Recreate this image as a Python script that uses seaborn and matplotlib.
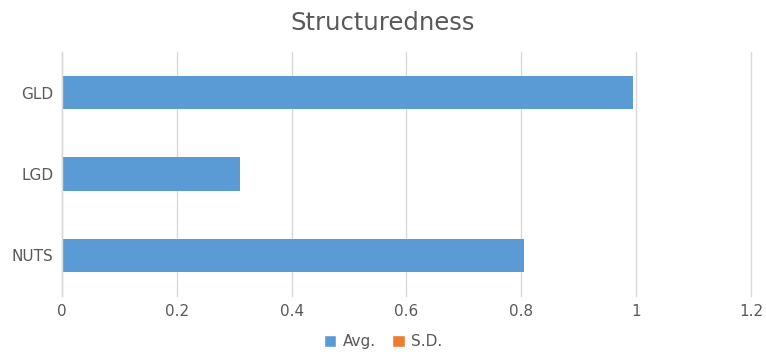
import matplotlib
matplotlib.use("Agg")
import matplotlib.pyplot as plt
from matplotlib.patches import Patch
import seaborn as sns
import pandas as pd

categories = ["GLD", "LGD", "NUTS"]
avg_values = [0.994, 0.31, 0.804]
sd_values = [0.0, 0.0, 0.0]
x_ticks = [0, 0.2, 0.4, 0.6, 0.8, 1.0, 1.2]
x_tick_labels = ["0", "0.2", "0.4", "0.6", "0.8", "1", "1.2"]

avg_color = "#5B9BD5"
sd_color = "#ED7D31"
text_color = "#595959"
grid_color = "#D9D9D9"

sns.set_theme(style="white")
plt.rcParams["font.family"] = ["DejaVu Sans"]

df = pd.DataFrame({"category": categories, "Avg.": avg_values, "S.D.": sd_values})

fig = plt.figure(figsize=(7.66, 3.54), dpi=100)
ax = fig.add_axes([0.0809, 0.1638, 0.8995, 0.689])

sns.barplot(data=df, y="category", x="Avg.", color=avg_color, width=0.41,
            orient="h", ax=ax, saturation=1, linewidth=0)
sns.barplot(data=df, y="category", x="S.D.", color=sd_color, width=0.41,
            orient="h", ax=ax, saturation=1, linewidth=0)

ax.set_xlim(0, 1.2)
ax.set_ylim(2.5, -0.5)
ax.set_xticks(x_ticks)
ax.set_xticklabels(x_tick_labels)
ax.set_xlabel("")
ax.set_ylabel("")
ax.tick_params(axis="both", length=0, labelsize=11, colors=text_color, pad=6)
ax.xaxis.grid(True, color=grid_color, linewidth=1)
for gl in ax.get_xgridlines():
    gl.set_clip_on(False)
ax.set_axisbelow(True)
for s in ["top", "right", "bottom"]:
    ax.spines[s].set_visible(False)
ax.spines["left"].set_color(grid_color)
ax.spines["left"].set_linewidth(1)

fig.text(0.5, 0.935, "Structuredness", ha="center", va="center",
         fontsize=17.5, color=text_color)

handles = [Patch(facecolor=avg_color, label="Avg."),
           Patch(facecolor=sd_color, label="S.D.")]
fig.legend(handles=handles, loc="center", bbox_to_anchor=(0.5, 0.034), ncol=2,
           frameon=False, fontsize=11, labelcolor=text_color,
           handlelength=0.8, handleheight=0.8, handletextpad=0.4, columnspacing=1.1)

fig.savefig("out.png", dpi=100)
